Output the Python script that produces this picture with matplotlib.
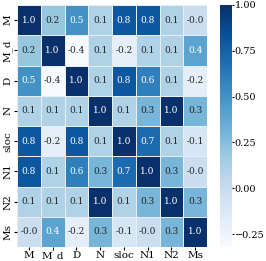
import numpy as np
import matplotlib
matplotlib.use("Agg")
import matplotlib.pyplot as plt
import seaborn as sns

labels = ["M", "M_d", "D", "N", "sloc", "N1", "N2", "Ms"]

row_M    = [1.0, 0.2, 0.5, 0.1, 0.8, 0.8, 0.1, -0.02]
row_M_d  = [0.2, 1.0, -0.36, 0.1, -0.2, 0.1, 0.1, 0.4]
row_D    = [0.5, -0.36, 1.0, 0.1, 0.8, 0.6, 0.1, -0.2]
row_N    = [0.1, 0.1, 0.1, 1.0, 0.1, 0.3, 1.0, 0.3]
row_sloc = [0.8, -0.2, 0.8, 0.1, 1.0, 0.7, 0.1, -0.1]
row_N1   = [0.8, 0.1, 0.6, 0.3, 0.7, 1.0, 0.3, -0.02]
row_N2   = [0.1, 0.1, 0.1, 1.0, 0.1, 0.3, 1.0, 0.3]
row_Ms   = [-0.02, 0.4, -0.2, 0.3, -0.1, -0.02, 0.3, 1.0]

corr = np.array([row_M, row_M_d, row_D, row_N, row_sloc, row_N1, row_N2, row_Ms])

plt.rcParams["font.family"] = ["DejaVu Serif"]

fig = plt.figure(figsize=(2.66, 2.61), dpi=100)
W, H = 266, 261
ax = fig.add_axes([17 / W, 1 - 247 / H, 190 / W, 242 / H])
cax = fig.add_axes([220 / W, 1 - 247 / H, 12 / W, 242 / H])

sns.heatmap(corr, ax=ax, cbar_ax=cax, cmap="Blues", vmin=-0.32, vmax=1.0,
            annot=True, fmt=".1f", annot_kws={"fontsize": 6.5},
            linewidths=0.4, linecolor="#e8eef5",
            xticklabels=labels, yticklabels=labels)

ax.tick_params(axis="both", labelsize=7.5, length=2, pad=1)
ax.set_yticklabels(labels, rotation=90, va="center")
ax.set_xticklabels(labels, rotation=0)
cax.tick_params(labelsize=7, length=1.5, pad=0.5)
cax.set_yticks([-0.25, 0.0, 0.25, 0.5, 0.75, 1.0])
cax.set_yticklabels(["\u22120.25", "0.00", "0.25", "0.50", "0.75", "1.00"])
for s in cax.spines.values():
    s.set_visible(False)

fig.savefig("out.png", dpi=100)
